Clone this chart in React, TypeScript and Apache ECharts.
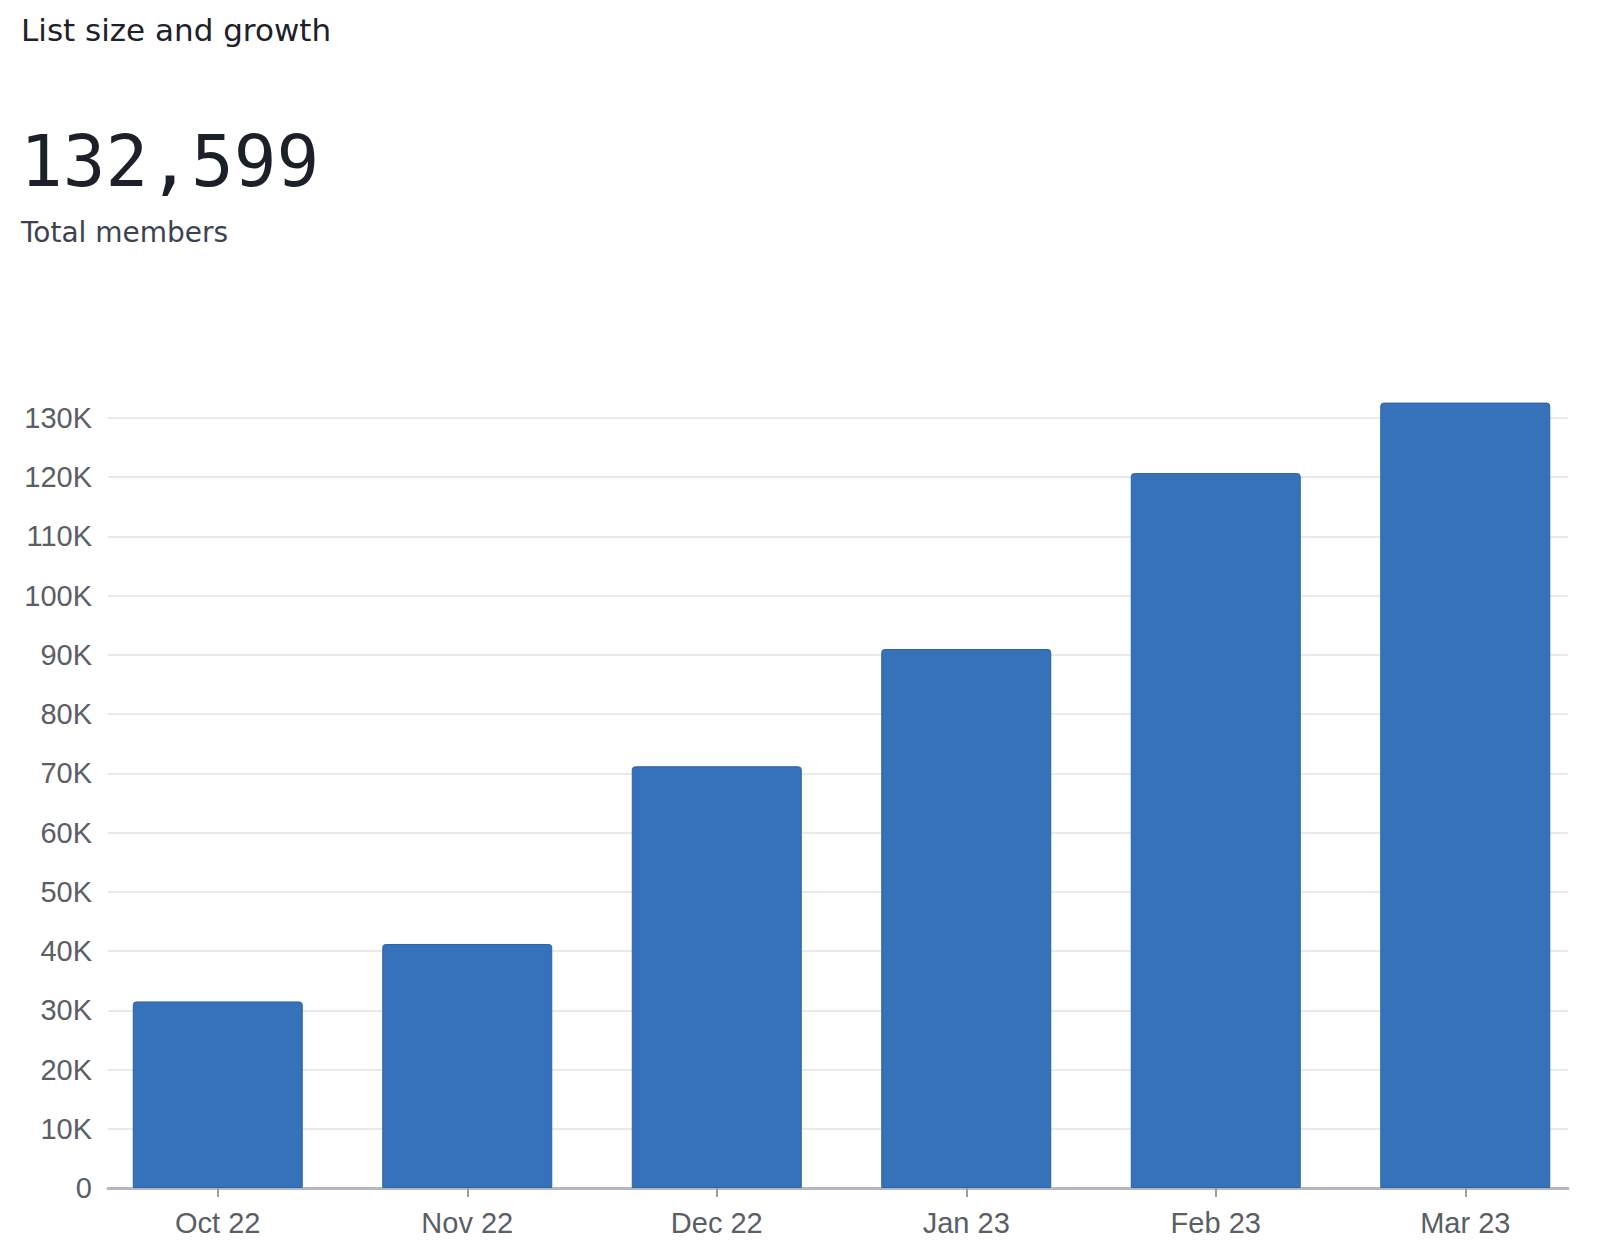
import React, { useEffect, useRef } from "react";
import * as echarts from "echarts";

const categories = ["Oct 22", "Nov 22", "Dec 22", "Jan 23", "Feb 23", "Mar 23"];
const members = [31500, 41200, 71200, 91000, 120700, 132599];
const yMin = 0;
const yMax = 130000;
const yInterval = 10000;
const titleText = "List size and growth";
const totalText = "132,599";
const totalLabel = "Total members";

const LABEL_FONT = "'Liberation Sans', Arial, sans-serif";
const HEAD_FONT = "'DejaVu Sans', 'Open Sans', sans-serif";

export default function App() {
  const ref = useRef<HTMLDivElement>(null);
  useEffect(() => {
    if (!ref.current) return;
    const chart = echarts.init(ref.current, undefined, { renderer: "svg" });
    const top = 418;
    const bottom = 60;
    chart.setOption({
      animation: false,
      backgroundColor: "#ffffff",
      graphic: [
        {
          type: "text",
          left: 21,
          top: 14,
          style: { text: titleText, font: `400 31px ${HEAD_FONT}`, fill: "#1d2129" },
        },
        {
          type: "text",
          left: 20,
          top: 126,
          style: { text: totalText, font: `400 71px 'DejaVu Sans Mono', monospace`, fill: "#1c2029" },
        },
        {
          type: "text",
          left: 21,
          top: 218,
          style: { text: totalLabel, font: `400 28px ${HEAD_FONT}`, fill: "#3c4350" },
        },
      ],
      grid: [
        { left: 93, right: 10, top, bottom, containLabel: false },
        { left: 108, right: 32, top, bottom, containLabel: false },
      ],
      xAxis: [
        {
          type: "category",
          gridIndex: 0,
          data: categories,
          axisLine: { show: false },
          axisTick: { show: true, alignWithLabel: true, length: 9, lineStyle: { color: "#9a9ea6", width: 2 } },
          axisLabel: { fontSize: 29, color: "#5a5e65", margin: 20, fontFamily: LABEL_FONT },
        },
        {
          type: "category",
          gridIndex: 1,
          data: categories,
          axisLine: { show: true, lineStyle: { color: "#b3b7be", width: 3 } },
          axisTick: { show: false },
          axisLabel: { show: false },
        },
      ],
      yAxis: [
        {
          type: "value",
          gridIndex: 0,
          min: yMin,
          max: yMax,
          interval: yInterval,
          show: false,
          splitLine: { show: false },
        },
        {
          type: "value",
          gridIndex: 1,
          min: yMin,
          max: yMax,
          interval: yInterval,
          axisLine: { show: false },
          axisTick: { show: false },
          splitLine: { show: true, lineStyle: { color: "#e9e9eb", width: 2 } },
          axisLabel: {
            fontSize: 29,
            color: "#5a5e65",
            margin: 16,
            fontFamily: LABEL_FONT,
            formatter: (v: number) => (v === 0 ? "0" : `${v / 1000}K`),
          },
        },
      ],
      series: [
        {
          type: "bar",
          xAxisIndex: 0,
          yAxisIndex: 0,
          data: members,
          barWidth: 170,
          clip: false,
          z: 3,
          itemStyle: {
            color: "#3572b9",
            borderColor: "#2a63a8",
            borderWidth: 1,
            borderRadius: [3, 3, 0, 0],
          },
        },
      ],
    });
    return () => chart.dispose();
  }, []);
  return (
    <div
      ref={ref}
      style={{ position: "fixed", left: 0, top: 0, width: 1600, height: 1248, background: "#fff" }}
    />
  );
}
